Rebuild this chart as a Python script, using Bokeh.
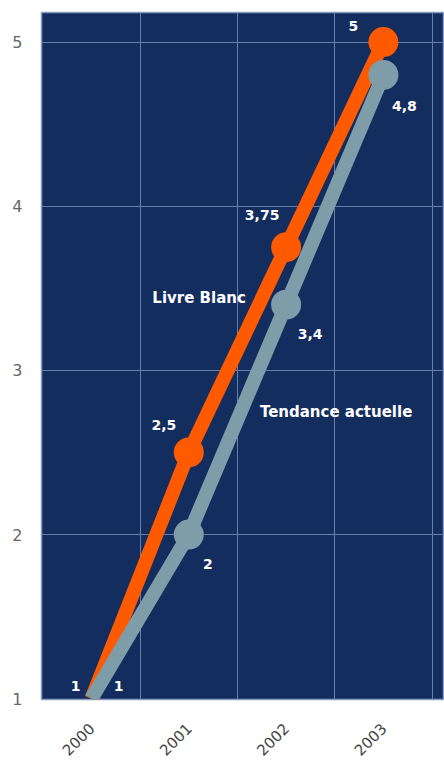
import math
from bokeh.plotting import figure
from bokeh.models import ColumnDataSource, FixedTicker
from bokeh.core.properties import value
from bokeh.embed import file_html
from bokeh.resources import INLINE

years = ["2000", "2001", "2002", "2003"]
livre_blanc = [1, 2.5, 3.75, 5]
tendance = [1, 2, 3.4, 4.8]
livre_labels = ["1", "2,5", "3,75", "5"]
tendance_labels = ["1", "2", "3,4", "4,8"]
series_names = ["Livre Blanc", "Tendance actuelle"]
y_ticks = [1, 2, 3, 4, 5]

xs = list(range(len(years)))

# pixel offsets for the value labels (style, not data)
lb_dx = [-16, -25, -24, -30]
lb_dy = [-13, -27, -32, -16]
td_dx = [27, 19, 24, 21]
td_dy = [-13, 29, 29, 31]

ORANGE = "#FF5A00"
GREY = "#7F9CA9"
NAVY = "#142D5F"
FONT = "DejaVu Sans"

p = figure(width=444, height=763, output_backend="svg", toolbar_location=None,
           x_range=(-0.514, 3.628), y_range=(0.995, 5.18),
           min_border_left=41, min_border_right=0, min_border_top=12,
           min_border_bottom=64)
p.background_fill_color = NAVY
p.border_fill_color = "white"
p.outline_line_color = "#8A9CC0"
p.outline_line_width = 1.5

p.xaxis.ticker = FixedTicker(ticks=xs)
p.xaxis.major_label_overrides = {i: y for i, y in enumerate(years)}
p.xaxis.major_label_orientation = math.pi / 4
p.xaxis.axis_line_color = None
p.xaxis.major_tick_line_color = None
p.xaxis.minor_tick_line_color = None
p.xaxis.major_label_text_font = FONT
p.xaxis.major_label_text_font_size = "15px"
p.xaxis.major_label_text_color = "#444444"
p.xaxis.major_label_standoff = 20

p.yaxis.ticker = FixedTicker(ticks=y_ticks)
p.yaxis.axis_line_color = None
p.yaxis.major_tick_line_color = None
p.yaxis.minor_tick_line_color = None
p.yaxis.major_label_text_font = FONT
p.yaxis.major_label_text_font_size = "16px"
p.yaxis.major_label_text_color = "#666666"
p.yaxis.major_label_standoff = 13

p.xgrid.ticker = FixedTicker(ticks=[i + 0.5 for i in xs])
p.ygrid.ticker = FixedTicker(ticks=y_ticks[1:])
p.xgrid.grid_line_color = "#6A7FA8"
p.ygrid.grid_line_color = "#6A7FA8"
p.xgrid.grid_line_width = 1
p.ygrid.grid_line_width = 1

# Livre Blanc (orange)
p.line(xs, livre_blanc, line_color=ORANGE, line_width=14)
p.scatter(xs[1:], livre_blanc[1:], size=30, fill_color=ORANGE, line_color=None)
# Tendance actuelle (grey)
p.line(xs, tendance, line_color=GREY, line_width=14)
p.scatter(xs[1:], tendance[1:], size=30, fill_color=GREY, line_color=None)

lb_src = ColumnDataSource(dict(x=xs, y=livre_blanc, t=livre_labels, dx=lb_dx, dy=lb_dy))
td_src = ColumnDataSource(dict(x=xs, y=tendance, t=tendance_labels, dx=td_dx, dy=td_dy))
for src in (lb_src, td_src):
    p.text(x="x", y="y", text="t", x_offset="dx", y_offset="dy", source=src,
           text_color="white", text_font=value(FONT), text_font_size="14px",
           text_font_style="bold", text_align="center", text_baseline="middle")

name_src = ColumnDataSource(dict(x=[xs[2], xs[2]], y=[livre_blanc[2], tendance[2]],
                                 t=series_names, dx=[-87, 50], dy=[51, 107]))
p.text(x="x", y="y", text="t", x_offset="dx", y_offset="dy", source=name_src,
       text_color="white", text_font=value(FONT), text_font_size="15px",
       text_font_style="bold", text_align="center", text_baseline="middle")

open("out.html", "w").write(file_html(p, INLINE))
